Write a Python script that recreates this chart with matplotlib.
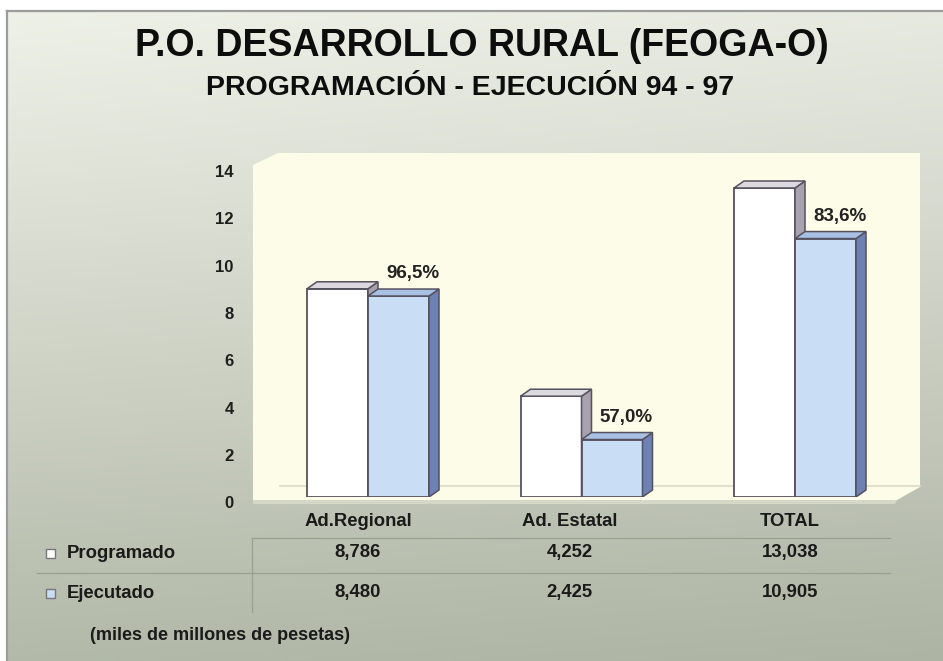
import numpy as np
import matplotlib
matplotlib.use("Agg")
import matplotlib.pyplot as plt
from matplotlib.patches import Polygon, Rectangle
from matplotlib.transforms import ScaledTranslation, blended_transform_factory

plt.rcParams['font.family'] = ['Liberation Sans', 'DejaVu Sans']

# ---- data ----
categories = ["Ad.Regional", "Ad. Estatal", "TOTAL"]
programado = [8.786, 4.252, 13.038]
ejecutado = [8.480, 2.425, 10.905]
series_names = ["Programado", "Ejecutado"]
yticks = [0, 2, 4, 6, 8, 10, 12, 14]
title = "P.O. DESARROLLO RURAL (FEOGA-O)"
subtitle = "PROGRAMACIÓN - EJECUCIÓN 94 - 97"
note = "(miles de millones de pesetas)"

W, H = 943, 661
fig = plt.figure(figsize=(W / 100, H / 100), dpi=100)
fig.patch.set_facecolor("white")

# ---- background (pixel coordinates) ----
bg = fig.add_axes([0, 0, 1, 1], zorder=-10)
bg.set_xlim(0, W)
bg.set_ylim(H, 0)
bg.axis("off")
top = np.array([0.935, 0.945, 0.905])
mid = np.array([0.855, 0.87, 0.825])
bot = np.array([0.70, 0.728, 0.66])
yy = np.linspace(0, 1, 300)[:, None]
xx = np.linspace(0, 1, 300)[None, :]
t1 = np.clip(yy / 0.35, 0, 1)
t2 = np.clip((yy - 0.35) / 0.65, 0, 1)
grad = np.where(yy[..., None] < 0.35,
                top + (mid - top) * t1[..., None],
                mid + (bot - mid) * t2[..., None])
grad = grad * (1 - 0.03 * xx[..., None]) * np.ones((300, 300, 1))
bg.imshow(grad, extent=[7, W, H, 11], aspect="auto", zorder=0)
bg.plot([7, W], [11, 11], color="#9c9c9c", lw=1.6, zorder=1)
bg.plot([7, 7], [11, H], color="#9c9c9c", lw=1.6, zorder=1)

# chart wall / floor
wall = Polygon([(253, 165), (278, 153), (920, 153), (920, 487), (897, 500), (253, 500)],
               closed=True, facecolor="#fcfce9", edgecolor="none", zorder=2)
bg.add_patch(wall)
bg.add_patch(Polygon([(253, 500), (897, 500), (895, 504), (253, 504)], closed=True,
                     facecolor="#d5d8c6", edgecolor="none", zorder=2))
bg.plot([280, 920], [486, 486], color="#dcdcc6", lw=1.2, zorder=3)

# ---- main axes ----
px_x = 213.5  # pixels per category
px_y = 23.7   # pixels per unit
left_px, right_px = 253, 920
base_px = 497
x0 = -(368 - left_px) / px_x
x1 = (right_px - 368) / px_x
ax = fig.add_axes([left_px / W, 1 - base_px / H, (right_px - left_px) / W, 14 * px_y / H])
ax.set_xlim(x0, x1)
ax.set_ylim(0, 14)
ax.patch.set_alpha(0)
for s in ax.spines.values():
    s.set_visible(False)
ax.set_xticks([])
ax.set_yticks(yticks)
ax.tick_params(axis="y", length=0, pad=14)
for lab in ax.get_yticklabels():
    lab.set_fontweight("bold")
    lab.set_fontsize(12)
    lab.set_color("#1e1e1e")
    lab.set_transform(lab.get_transform() + ScaledTranslation(0, -0.055, fig.dpi_scale_trans))

bw = 61 / px_x
dx = 10 / px_x
dy = 7 / px_y
edge = "#55515e"
styles = [
    dict(front="#ffffff", side="#a9a1ad", top="#dcd8e0"),
    dict(front="#c9ddf5", side="#6d82b3", top="#a8c0e4"),
]
xs = np.arange(len(categories))
for si, vals in enumerate([programado, ejecutado]):
    st = styles[si]
    xl = xs - bw + si * bw
    ax.bar(xl, vals, width=bw, align="edge", color=st["front"], edgecolor=edge,
           linewidth=1.3, zorder=2 + si * 2)
    for x, h in zip(xl, vals):
        side = Polygon([(x + bw, 0), (x + bw + dx, dy), (x + bw + dx, h + dy), (x + bw, h)],
                       closed=True, facecolor=st["side"], edgecolor=edge, lw=1.1,
                       zorder=2.5 + si * 2)
        topf = Polygon([(x, h), (x + dx, h + dy), (x + bw + dx, h + dy), (x + bw, h)],
                       closed=True, facecolor=st["top"], edgecolor=edge, lw=1.1,
                       zorder=2.5 + si * 2)
        ax.add_patch(side)
        ax.add_patch(topf)

# percentage labels
for i, (p, e) in enumerate(zip(programado, ejecutado)):
    pct = f"{e / p * 100:.1f}%".replace(".", ",")
    ax.text(i + bw / 2 + 0.068, e + 0.95, pct, ha="center", va="center",
            fontsize=13.5, fontweight="bold", color="#222222", zorder=10)

# ---- titles ----
fig.text(482 / W, 1 - 46 / H, title, ha="center", va="center", fontsize=27,
         fontweight="bold", color="#0d0d0d")
fig.text(470 / W, 1 - 88 / H, subtitle, ha="center", va="center", fontsize=20.5,
         fontweight="bold", color="#0d0d0d")

# ---- data table ----
tr = blended_transform_factory(ax.transData, fig.transFigure)
col_shift = [-0.047, -0.056, -0.024]
row_y = [1 - 553 / H, 1 - 593 / H]
tfs = 13.3
for i, cat in enumerate(categories):
    ax.text(i + col_shift[i], 1 - 521 / H, cat, transform=tr, ha="center", va="center",
            fontsize=tfs, fontweight="bold", color="#1a1a1a")
for r, vals in enumerate([programado, ejecutado]):
    for i, v in enumerate(vals):
        ax.text(i + col_shift[i], row_y[r], f"{v:.3f}".replace(".", ","), transform=tr,
                ha="center", va="center", fontsize=tfs, fontweight="bold", color="#1a1a1a")
    fig.text(67 / W, row_y[r], series_names[r], ha="left", va="center", fontsize=tfs,
             fontweight="bold", color="#1a1a1a")
    bg.add_patch(Rectangle((46, (1 - row_y[r]) * H - 4.5), 9, 9,
                           facecolor=styles[r]["front"], edgecolor="#77737f", lw=1.0, zorder=5))

bg.plot([252, 890], [538, 538], color="#9aa090", lw=0.9, zorder=4)
bg.plot([37, 890], [573, 573], color="#9aa090", lw=0.9, zorder=4)
bg.plot([252, 252], [538, 612], color="#9aa090", lw=0.9, zorder=4)

fig.text(90 / W, 1 - 636 / H, note, ha="left", va="center", fontsize=13,
         fontweight="bold", color="#1a1a1a")

fig.savefig("out.png", dpi=100)
